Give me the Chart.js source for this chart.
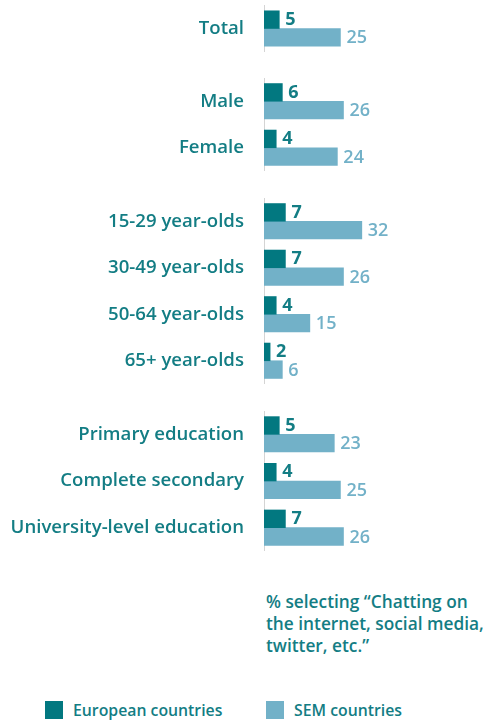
<!DOCTYPE html>
<html>
<head>
<meta charset="utf-8">
<script src="https://cdn.jsdelivr.net/npm/chart.js@4.4.1/dist/chart.umd.min.js"></script>
<style>
  html, body { margin: 0; padding: 0; background: #ffffff; }
  body { width: 488px; height: 722px; position: relative; overflow: hidden; font-family: "Open Sans", sans-serif; }
  canvas { position: absolute; left: 0; }
  #note { position: absolute; left: 266px; top: 591px; font-size: 17.3px; line-height: 22px; font-weight: 600; color: #137d84; }
  .leg { position: absolute; top: 701px; height: 18px; }
  .leg .sw { position: absolute; left: 0; top: 0; width: 18px; height: 18px; }
  .leg .tx { position: absolute; left: 28px; top: -3px; font-size: 15.8px; line-height: 24px; font-weight: 600; color: #137d84; white-space: nowrap; }
</style>
</head>
<body>
<canvas id="g0" width="488" height="47" style="top:5px"></canvas>
<canvas id="g1" width="488" height="93" style="top:78px"></canvas>
<canvas id="g2" width="488" height="186" style="top:198px"></canvas>
<canvas id="g3" width="488" height="140" style="top:411px"></canvas>
<div id="note">% selecting “Chatting on<br>the internet, social media,<br>twitter, etc.”</div>
<div class="leg" style="left:45px"><div class="sw" id="sw0"></div><div class="tx" id="lt0"></div></div>
<div class="leg" style="left:266px"><div class="sw" id="sw1"></div><div class="tx" id="lt1"></div></div>
<script>
// ---- data ----
const categories = ["Total", "Male", "Female", "15-29 year-olds", "30-49 year-olds", "50-64 year-olds", "65+ year-olds", "Primary education", "Complete secondary", "University-level education"];
const groupSizes = [1, 2, 4, 3];
const europeanValues = [5, 6, 4, 7, 7, 4, 2, 5, 4, 7];
const semValues = [25, 26, 24, 32, 26, 15, 6, 23, 25, 26];
const seriesNames = ["European countries", "SEM countries"];

// ---- styles ----
const DARK = "#027880";
const LIGHT = "#72b1c8";
const TEXT = "#137d84";
const LIGHT_TEXT = "#72b1c8";

document.getElementById("sw0").style.background = DARK;
document.getElementById("sw1").style.background = LIGHT;
document.getElementById("lt0").textContent = seriesNames[0];
document.getElementById("lt1").textContent = seriesNames[1];

const valueLabels = {
  id: "valueLabels",
  afterDatasetsDraw(chart) {
    const ctx = chart.ctx;
    ctx.save();
    ctx.textAlign = "left";
    ctx.textBaseline = "middle";
    chart.data.datasets.forEach((ds, i) => {
      const meta = chart.getDatasetMeta(i);
      ctx.font = (i === 0 ? "700" : "600") + " 18px 'Open Sans'";
      ctx.fillStyle = i === 0 ? TEXT : LIGHT_TEXT;
      meta.data.forEach((bar, j) => {
        ctx.fillText(String(ds.data[j]), bar.x + 6, bar.y + (i === 1 ? 1 : 0));
      });
    });
    ctx.restore();
  }
};

let start = 0;
groupSizes.forEach((n, g) => {
  const labels = categories.slice(start, start + n);
  const eu = europeanValues.slice(start, start + n);
  const sem = semValues.slice(start, start + n);
  start += n;
  new Chart(document.getElementById("g" + g), {
    type: "bar",
    data: {
      labels: labels,
      datasets: [
        { label: seriesNames[0], data: eu, backgroundColor: DARK, barThickness: 17.7 },
        { label: seriesNames[1], data: sem, backgroundColor: LIGHT, barThickness: 17.7 }
      ]
    },
    options: {
      indexAxis: "y",
      responsive: false,
      animation: false,
      devicePixelRatio: 1,
      layout: { padding: { left: 0, right: 10, top: 0, bottom: 0 } },
      plugins: { legend: { display: false }, tooltip: { enabled: false } },
      scales: {
        x: { display: false, min: 0, max: 70 },
        y: {
          afterFit(scale) {
            scale.width = 264;
            scale.paddingTop = 0;
            scale.paddingBottom = 0;
          },
          grid: { color: "transparent", drawTicks: false },
          border: { display: true, color: "#d4d4d4", width: 1 },
          ticks: {
            padding: 20,
            color: TEXT,
            font: { family: "Open Sans", size: 18.6, weight: "600" }
          }
        }
      }
    },
    plugins: [valueLabels]
  });
});
</script>
</body>
</html>
